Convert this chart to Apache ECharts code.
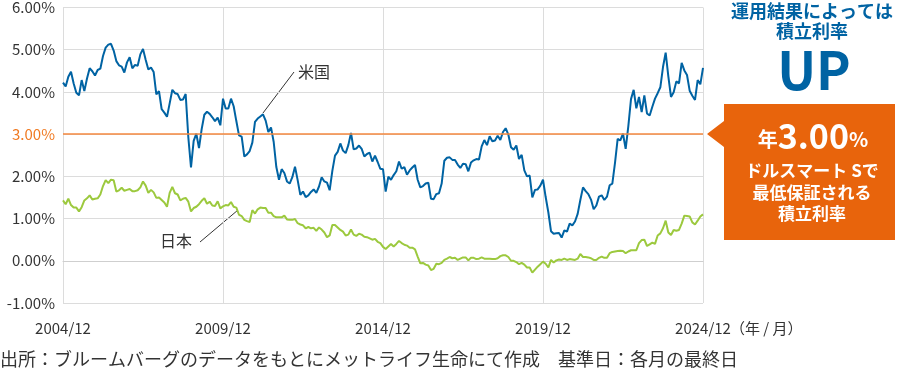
<!DOCTYPE html>
<html><head><meta charset="utf-8">
<script src="https://cdn.jsdelivr.net/npm/echarts@6/dist/echarts.min.js"></script>
<style>html,body{margin:0;padding:0;background:#fff}#c{width:900px;height:378px}</style>
</head><body><div id="c"></div>
<script>
// 月末利回り（%）: 2004/12 〜 2024/12
const us = [
4.22,
4.13,4.36,4.48,4.20,3.98,3.92,4.28,4.02,4.32,4.56,4.49,4.39,
4.52,4.55,4.85,5.05,5.12,5.14,4.98,4.73,4.63,4.60,4.46,4.70,
4.82,4.56,4.64,4.62,4.89,5.02,4.76,4.53,4.58,4.47,3.94,4.02,
3.59,3.51,3.41,3.73,4.05,3.97,3.95,3.81,3.82,3.95,2.92,2.21,
2.84,3.01,2.67,3.12,3.46,3.53,3.48,3.40,3.31,3.39,3.21,3.84,
3.61,3.61,3.84,3.66,3.31,2.97,2.94,2.47,2.52,2.60,2.80,3.29,
3.37,3.42,3.47,3.32,3.05,3.16,2.82,2.22,1.92,2.17,2.08,1.88,
1.83,1.98,2.23,1.91,1.56,1.64,1.51,1.55,1.63,1.69,1.61,1.76,
1.98,1.88,1.85,1.67,2.13,2.49,2.58,2.78,2.61,2.55,2.74,3.03,
2.64,2.66,2.73,2.65,2.47,2.53,2.56,2.35,2.49,2.34,2.18,2.17,
1.64,1.99,1.92,2.03,2.12,2.35,2.18,2.22,2.04,2.14,2.21,2.27,
1.92,1.74,1.77,1.83,1.85,1.47,1.46,1.58,1.60,1.83,2.37,2.44,
2.45,2.39,2.39,2.28,2.20,2.30,2.29,2.12,2.33,2.38,2.41,2.40,
2.71,2.86,2.74,2.95,2.83,2.85,2.96,2.86,3.05,3.14,2.99,2.69,
2.63,2.73,2.41,2.51,2.14,2.00,2.02,1.50,1.68,1.69,1.78,1.92,
1.51,1.15,0.70,0.64,0.65,0.66,0.55,0.72,0.69,0.88,0.84,0.93,
1.11,1.44,1.74,1.65,1.58,1.45,1.22,1.31,1.52,1.55,1.44,1.52,
1.79,1.83,2.32,2.89,2.85,3.01,2.65,3.19,3.83,4.05,3.61,3.88,
3.52,3.92,3.49,3.44,3.65,3.84,3.97,4.11,4.59,4.93,4.37,3.88,
3.99,4.25,4.20,4.69,4.51,4.40,4.03,3.91,3.81,4.28,4.18,4.57];
const jp = [
1.43,
1.34,1.47,1.32,1.26,1.26,1.17,1.27,1.43,1.48,1.55,1.45,1.47,
1.48,1.57,1.77,1.91,1.84,1.92,1.91,1.64,1.67,1.73,1.66,1.68,
1.70,1.65,1.65,1.67,1.74,1.88,1.78,1.61,1.68,1.62,1.49,1.50,
1.44,1.38,1.28,1.61,1.75,1.60,1.57,1.43,1.47,1.49,1.40,1.17,
1.25,1.28,1.34,1.42,1.48,1.35,1.40,1.31,1.30,1.41,1.24,1.29,
1.32,1.31,1.39,1.28,1.26,1.09,1.06,0.97,0.94,0.92,1.20,1.12,
1.22,1.26,1.25,1.25,1.14,1.14,1.06,1.03,1.03,1.03,1.07,0.98,
0.97,0.97,0.99,0.89,0.86,0.84,0.77,0.80,0.77,0.78,0.71,0.79,
0.74,0.67,0.56,0.60,0.85,0.85,0.79,0.73,0.69,0.60,0.62,0.74,
0.62,0.59,0.64,0.62,0.57,0.56,0.53,0.50,0.52,0.45,0.42,0.33,
0.28,0.34,0.40,0.34,0.40,0.47,0.42,0.38,0.36,0.31,0.31,0.27,
0.10,-0.06,-0.05,-0.09,-0.11,-0.22,-0.19,-0.07,-0.08,-0.05,0.02,0.05,
0.09,0.06,0.07,0.02,0.05,0.08,0.08,0.01,0.07,0.07,0.04,0.05,
0.08,0.05,0.05,0.05,0.04,0.04,0.06,0.11,0.13,0.13,0.09,0.00,
0.00,-0.03,-0.08,-0.05,-0.09,-0.16,-0.16,-0.28,-0.21,-0.14,-0.08,-0.02,
-0.07,-0.16,0.02,-0.04,0.01,0.03,0.02,0.05,0.02,0.04,0.03,0.02,
0.05,0.16,0.09,0.09,0.08,0.06,0.02,0.02,0.07,0.10,0.07,0.07,
0.18,0.21,0.22,0.23,0.24,0.23,0.18,0.22,0.25,0.25,0.25,0.42,
0.49,0.50,0.35,0.39,0.43,0.40,0.60,0.65,0.77,0.95,0.67,0.61,
0.73,0.71,0.73,0.88,1.07,1.06,1.05,0.91,0.86,0.95,1.05,1.10];
const tickLabels = ['2004/12','2009/12','2014/12','2019/12','2024/12'];
const guaranteedRate = 3.00;
const yTicks = [-1,0,1,2,3,4,5,6];

const cats = [];
for (let i = 0; i < us.length; i++) {
  const m0 = 11 + i; // 2004/12 start
  const y = 2004 + Math.floor(m0 / 12);
  const m = (m0 % 12) + 1;
  cats.push(y + '/' + String(m).padStart(2,'0'));
}

const FONT = '"Noto Sans CJK JP", "Noto Sans", sans-serif';
const chart = echarts.init(document.getElementById('c'), null, {renderer:'canvas'});
chart.setOption({
  animation: false,
  textStyle: {fontFamily: FONT},
  grid: {left: 63, right: 197, top: 7, bottom: 75, containLabel: false},
  xAxis: {
    type: 'category', data: cats, boundaryGap: false,
    axisLine: {lineStyle: {color: '#cfcfcf', width: 1}},
    axisTick: {show: false},
    axisLabel: {interval: (i) => i % 60 === 0, color: '#333', fontSize: 15, margin: 18, fontFamily: FONT},
    splitLine: {show: true, interval: (i) => i % 60 === 0, lineStyle: {color: '#dcdcdc', width: 1}}
  },
  yAxis: {
    type: 'value', min: yTicks[0], max: yTicks[yTicks.length-1], interval: 1,
    axisLine: {show: false},
    axisTick: {show: false},
    axisLabel: {
      color: '#333', fontSize: 15, margin: 8, fontFamily: FONT,
      formatter: (v) => v === guaranteedRate ? '{o|' + v.toFixed(2) + '%}' : v.toFixed(2) + '%',
      rich: {o: {color: '#f07a22', fontSize: 15, fontFamily: FONT}}
    },
    splitLine: {lineStyle: {color: '#dcdcdc', width: 1}}
  },
  series: [
    {name: '米国', type: 'line', data: us, showSymbol: false, symbol: 'none',
     lineStyle: {color: '#0063a3', width: 2}, z: 3,
     markLine: {silent: true, symbol: 'none', label: {show: false},
       lineStyle: {color: '#f5883f', width: 1.5, type: 'solid'},
       data: [{yAxis: guaranteedRate}]}},
    {name: '日本', type: 'line', data: jp, showSymbol: false, symbol: 'none',
     lineStyle: {color: '#9cc93e', width: 2}, z: 2}
  ],
  graphic: [
    {type: 'line', shape: {x1: 263, y1: 113, x2: 294, y2: 72}, style: {stroke: '#333', lineWidth: 1}},
    {type: 'text', left: 298, top: 64, style: {text: '米国', fill: '#333', font: '16px ' + FONT}},
    {type: 'line', shape: {x1: 238, y1: 210, x2: 200, y2: 242}, style: {stroke: '#333', lineWidth: 1}},
    {type: 'text', left: 160, top: 233, style: {text: '日本', fill: '#333', font: '16px ' + FONT}},
    {type: 'text', left: 730, top: 321, style: {text: '（年 / 月）', fill: '#333', font: '15px ' + FONT}},
    {type: 'text', left: 0, top: 350, style: {text: '出所：ブルームバーグのデータをもとにメットライフ生命にて作成　基準日：各月の最終日', fill: '#333', font: '18px ' + FONT}},
    {type: 'text', x: 812, y: 11, style: {text: '運用結果によっては', fill: '#0063a3', font: 'bold 18px ' + FONT, align: 'center', verticalAlign: 'middle'}},
    {type: 'text', x: 812, y: 31, style: {text: '積立利率', fill: '#0063a3', font: 'bold 18px ' + FONT, align: 'center', verticalAlign: 'middle'}},
    {type: 'text', x: 814, y: 70, style: {text: 'UP', fill: '#0063a3', font: 'bold 52px ' + FONT, align: 'center', verticalAlign: 'middle'}},
    {type: 'polygon', shape: {points: [[707,134],[724,121],[724,104],[895,104],[895,240],[724,240],[724,147]]}, style: {fill: '#e8640c'}},
    {type: 'text', x: 813, y: 136, style: {text: '{a|年}{b|3.00}{a|%}', align: 'center', verticalAlign: 'middle',
      rich: {a: {fill: '#fff', font: 'bold 20px ' + FONT, padding: [6,0,0,0]}, b: {fill: '#fff', font: 'bold 34px ' + FONT}}}},
    {type: 'text', x: 812, y: 171, style: {text: 'ドルスマート Sで', fill: '#fff', font: 'bold 17px ' + FONT, align: 'center', verticalAlign: 'middle'}},
    {type: 'text', x: 812, y: 193, style: {text: '最低保証される', fill: '#fff', font: 'bold 17px ' + FONT, align: 'center', verticalAlign: 'middle'}},
    {type: 'text', x: 812, y: 214, style: {text: '積立利率', fill: '#fff', font: 'bold 17px ' + FONT, align: 'center', verticalAlign: 'middle'}}
  ]
});
</script></body></html>
